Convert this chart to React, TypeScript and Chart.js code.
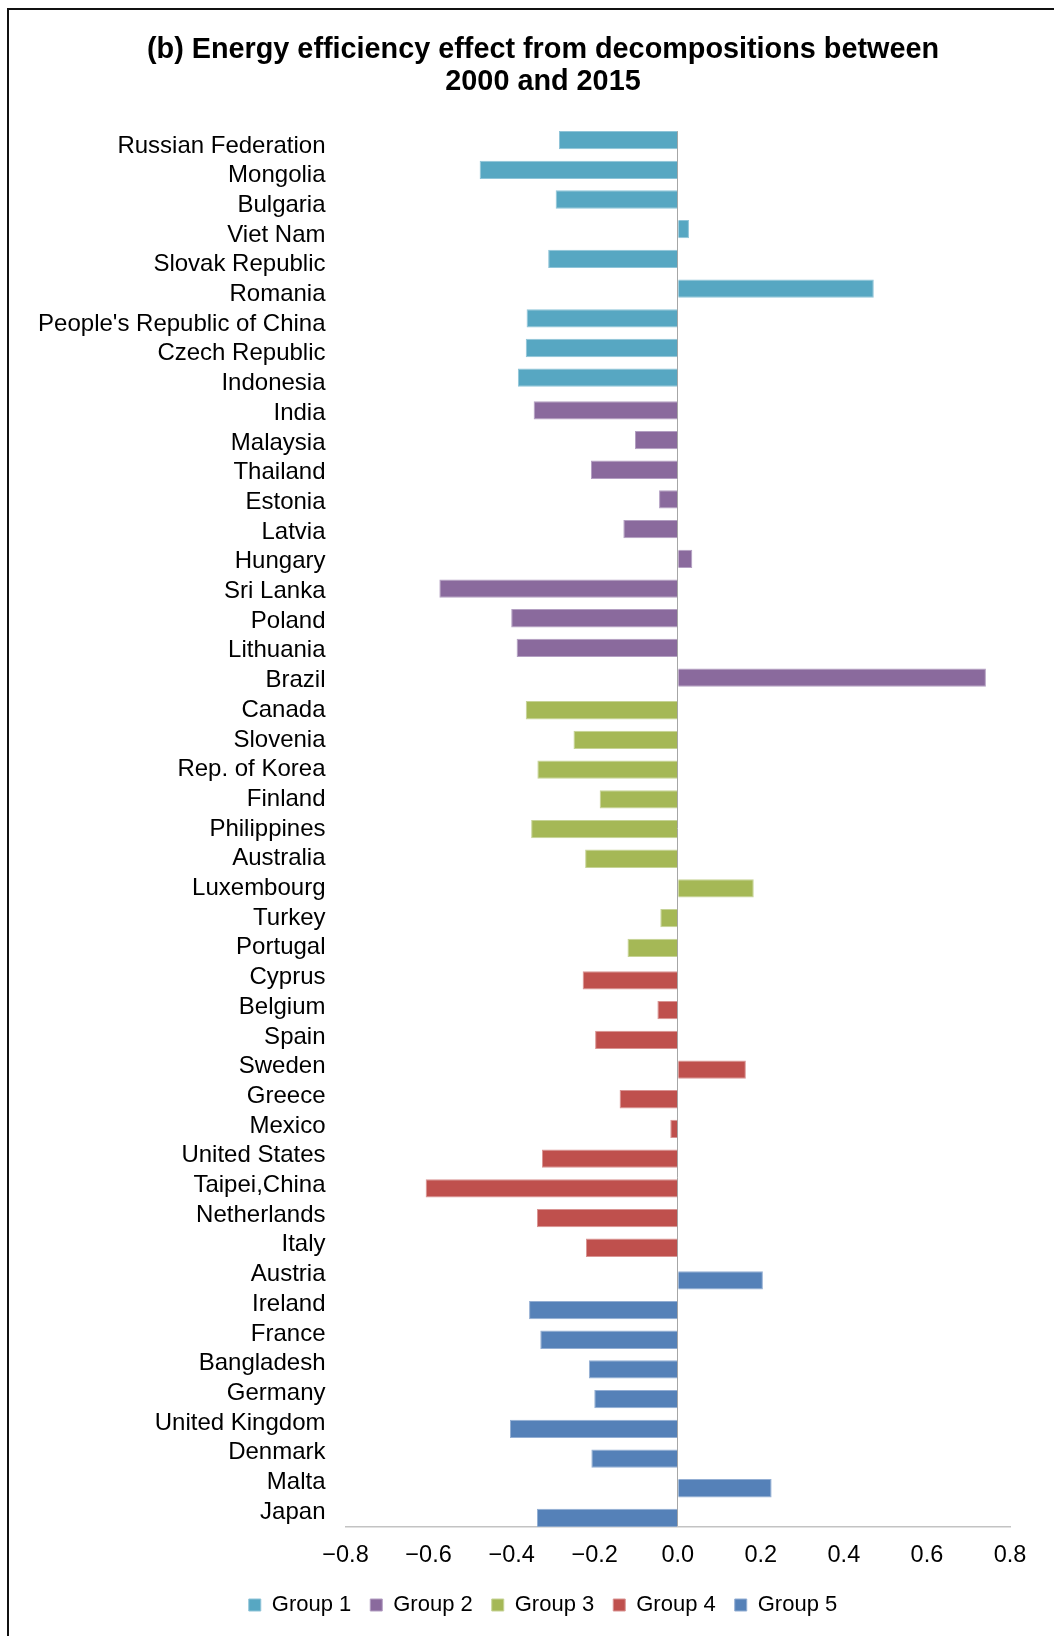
import React, { useEffect, useRef } from "react";
import { Chart, registerables } from "chart.js";

Chart.register(...registerables);

const titleLines = ["(b) Energy efficiency effect from decompositions between", "2000 and 2015"];

const groupNames = ["Group 1", "Group 2", "Group 3", "Group 4", "Group 5"];

const group1Countries = ["Russian Federation", "Mongolia", "Bulgaria", "Viet Nam", "Slovak Republic", "Romania", "People's Republic of China", "Czech Republic", "Indonesia"];
const group1Values = [-0.286, -0.477, -0.294, 0.027, -0.312, 0.472, -0.364, -0.366, -0.385];

const group2Countries = ["India", "Malaysia", "Thailand", "Estonia", "Latvia", "Hungary", "Sri Lanka", "Poland", "Lithuania", "Brazil"];
const group2Values = [-0.347, -0.103, -0.209, -0.045, -0.131, 0.035, -0.574, -0.401, -0.388, 0.742];

const group3Countries = ["Canada", "Slovenia", "Rep. of Korea", "Finland", "Philippines", "Australia", "Luxembourg", "Turkey", "Portugal"];
const group3Values = [-0.366, -0.251, -0.338, -0.188, -0.353, -0.223, 0.183, -0.042, -0.121];

const group4Countries = ["Cyprus", "Belgium", "Spain", "Sweden", "Greece", "Mexico", "United States", "Taipei,China", "Netherlands", "Italy"];
const group4Values = [-0.229, -0.049, -0.199, 0.164, -0.14, -0.018, -0.327, -0.607, -0.339, -0.221];

const group5Countries = ["Austria", "Ireland", "France", "Bangladesh", "Germany", "United Kingdom", "Denmark", "Malta", "Japan"];
const group5Values = [0.205, -0.358, -0.331, -0.214, -0.201, -0.404, -0.208, 0.226, -0.339];

const xTickLabels = ["\u22120.8", "\u22120.6", "\u22120.4", "\u22120.2", "0.0", "0.2", "0.4", "0.6", "0.8"];

const groupColors = ["#57a7c2", "#8a6a9d", "#a5b856", "#bf504d", "#5581b8"];
const groupBorders = ["#8fc4d8", "#b39fc2", "#c6d396", "#d99493", "#93aed3"];

const FONT = "'Liberation Sans', Arial, Helvetica, sans-serif";

// lets the long category labels extend to the left of the (narrowed) y-axis box
const unclipLabels = {
  id: "unclipLabels",
  afterLayout(chart: any) {
    if (chart.scales.y) chart.scales.y.left = 0;
  },
};

export default function App() {
  const canvasRef = useRef<HTMLCanvasElement | null>(null);

  useEffect(() => {
    const groupsC = [group1Countries, group2Countries, group3Countries, group4Countries, group5Countries];
    const groupsV = [group1Values, group2Values, group3Values, group4Values, group5Values];
    const categories = groupsC.flat();
    const datasets = groupsC.map((countries, gi) => ({
      label: groupNames[gi],
      data: categories.map((c) => {
        const k = countries.indexOf(c);
        return k >= 0 ? groupsV[gi][k] : null;
      }),
      backgroundColor: groupColors[gi],
      borderColor: groupBorders[gi],
      borderWidth: 1,
      categoryPercentage: 0.49,
      barPercentage: 6.29,
    }));

    const chart = new Chart(canvasRef.current as HTMLCanvasElement, {
      type: "bar",
      data: { labels: categories, datasets },
      plugins: [unclipLabels],
      options: {
        indexAxis: "y",
        animation: false,
        responsive: false,
        maintainAspectRatio: false,
        layout: { padding: { left: 67, right: 44, top: 0, bottom: 10 } },
        scales: {
          x: {
            min: -0.8,
            max: 0.8,
            ticks: {
              stepSize: 0.2,
              padding: 14,
              color: "#000",
              font: { family: FONT, size: 23.5 },
              callback: (_v: any, i: number) => xTickLabels[i],
            },
            grid: {
              drawTicks: false,
              lineWidth: 1,
              color: (ctx: any) =>
                ctx.tick && Math.abs(ctx.tick.value) < 1e-9 ? "#a6a6a6" : "rgba(0,0,0,0)",
            },
            border: { display: true, color: "#c3c3c3", width: 1.5 },
            afterFit: (scale: any) => {
              scale.height = 48;
            },
          },
          y: {
            ticks: {
              padding: 20,
              color: "#000",
              autoSkip: false,
              font: { family: FONT, size: 24 },
            },
            grid: { display: false, drawTicks: false },
            border: { display: false },
            afterFit: (scale: any) => {
              scale.width = 269.5;
            },
          },
        },
        plugins: {
          title: {
            display: true,
            text: titleLines,
            color: "#000",
            font: { family: FONT, size: 28.8, weight: "bold", lineHeight: 1.13 },
            padding: { top: 23.5, bottom: 32.5 },
          },
          legend: {
            position: "bottom",
            labels: {
              boxWidth: 12,
              boxHeight: 12,
              padding: 19,
              color: "#000",
              font: { family: FONT, size: 22 },
            },
          },
          tooltip: { enabled: false },
        },
      },
    });
    return () => chart.destroy();
  }, []);

  return (
    <div style={{ position: "fixed", left: 0, top: 0, width: 1054, height: 1636, overflow: "hidden", background: "#fff" }}>
      <div
        style={{
          position: "absolute",
          left: 7,
          top: 8,
          width: 1100,
          height: 1700,
          borderLeft: "2px solid #111",
          borderTop: "2px solid #111",
        }}
      />
      <canvas
        ref={canvasRef}
        width={1045}
        height={1626}
        style={{ position: "absolute", left: 9, top: 10, width: 1045, height: 1626 }}
      />
    </div>
  );
}
